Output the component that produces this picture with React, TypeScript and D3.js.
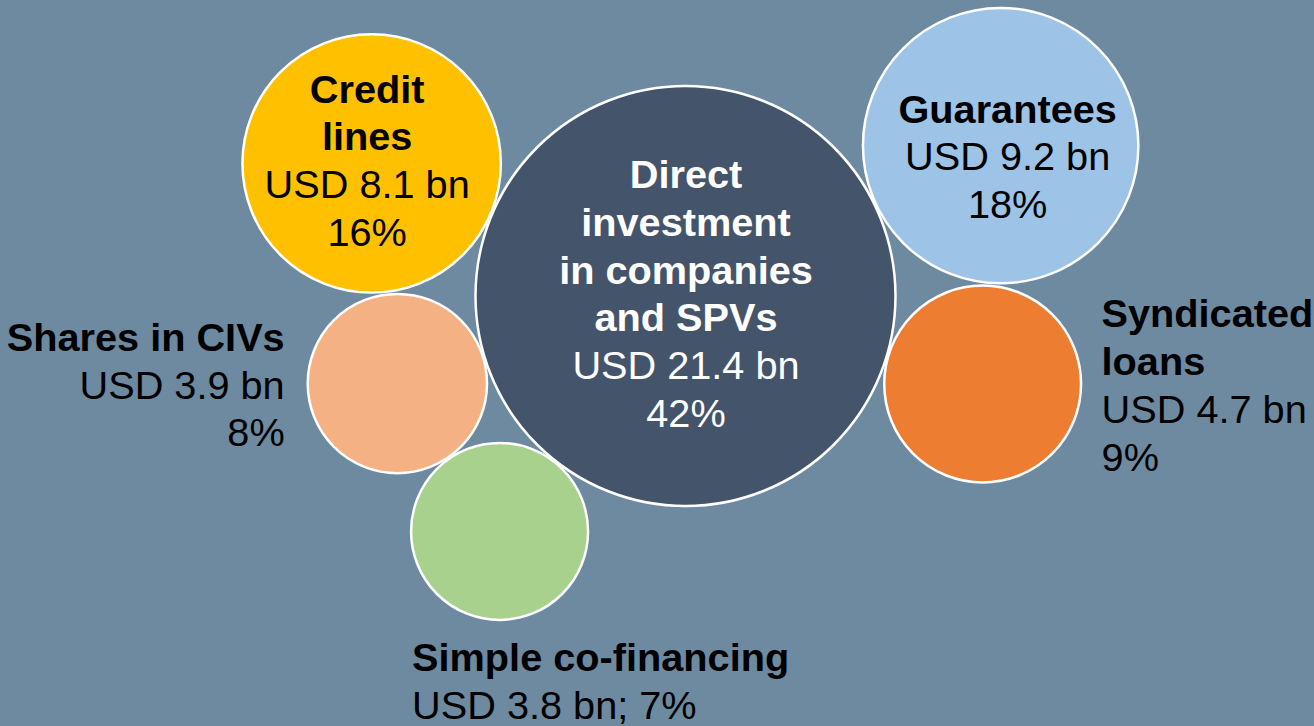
import React from "react"
import * as d3 from "d3"

// values (USD bn and share of total)
const categories = [
  "Direct investment in companies and SPVs",
  "Credit lines",
  "Guarantees",
  "Shares in CIVs",
  "Syndicated loans",
  "Simple co-financing",
]
const values = [21.4, 8.1, 9.2, 3.9, 4.7, 3.8]
const percents = [42, 16, 18, 8, 9, 7]
const nameLines = [
  ["Direct", "investment", "in companies", "and SPVs"],
  ["Credit", "lines"],
  ["Guarantees"],
  ["Shares in CIVs"],
  ["Syndicated", "loans"],
  ["Simple co-financing"],
]
const colors = ["#44546a", "#ffc000", "#9dc3e6", "#f4b183", "#ed7d31", "#a9d18e"]

// layout: angle of each satellite around the big bubble, and where its label sits
const angles = [0, -157.1, -25.5, 163.1, 16.5, 128.3]
const labelPos = ["inside", "inside", "inside", "left", "right", "below"]
const labelShift = [
  [0.5, 11.5],
  [-4.5, 10.7],
  [7, 24.6],
  [-23, 15],
  [20.5, 15],
  [1, 51],
]

const W = 1314
const H = 726
const cx0 = 685.5
const cy0 = 296
const lh = 47.7
const fontSize = 39.7

const App = () => {
  const r = d3.scaleSqrt().domain([0, d3.max(values)]).range([0, 210])
  const R0 = r(values[0])

  const bubbles = values.map((v, i) => {
    const rad = r(v)
    if (i === 0) return { i, rad, x: cx0, y: cy0 }
    const a = (angles[i] * Math.PI) / 180
    const d = R0 + rad + 1.5
    return { i, rad, x: cx0 + d * Math.cos(a), y: cy0 + d * Math.sin(a) }
  })

  const labelLines = (i: number) => {
    const name = nameLines[i].map((t) => ({ t, bold: true }))
    const usd = `USD ${d3.format(".1f")(values[i])} bn`
    if (labelPos[i] === "below") return [...name, { t: `${usd}; ${percents[i]}%`, bold: false }]
    return [...name, { t: usd, bold: false }, { t: `${percents[i]}%`, bold: false }]
  }

  return (
    <div style={{ position: "absolute", left: 0, top: 0, width: W, height: H }}>
      <svg width={W} height={H} style={{ display: "block" }}>
        <rect width={W} height={H} fill="#6e8aa1" />
        {bubbles.map((b) => (
          <circle
            key={categories[b.i]}
            cx={b.x}
            cy={b.y}
            r={b.rad}
            fill={colors[b.i]}
            stroke="#fff"
            strokeWidth={2.5}
          />
        ))}
        {bubbles.map((b) => {
          const lines = labelLines(b.i)
          const n = lines.length
          const pos = labelPos[b.i]
          const [dx, dy] = labelShift[b.i]
          let x = b.x + dx
          let anchor = "middle"
          let y0 = b.y - ((n - 1) / 2) * lh + dy
          if (pos === "left") {
            x = b.x - b.rad + dx
            anchor = "end"
          } else if (pos === "right") {
            x = b.x + b.rad + dx
            anchor = "start"
          } else if (pos === "below") {
            x = b.x - b.rad + dx
            anchor = "start"
            y0 = b.y + b.rad + dy
          }
          return (
            <text
              key={"l" + b.i}
              x={x}
              textAnchor={anchor}
              fontFamily="'Liberation Sans', Arial, sans-serif"
              fontSize={fontSize}
              fill={b.i === 0 ? "#fff" : "#000"}
            >
              {lines.map((l, k) => (
                <tspan key={k} x={x} y={y0 + k * lh} fontWeight={l.bold ? "bold" : "normal"}>
                  {l.t}
                </tspan>
              ))}
            </text>
          )
        })}
      </svg>
    </div>
  )
}

export default App
